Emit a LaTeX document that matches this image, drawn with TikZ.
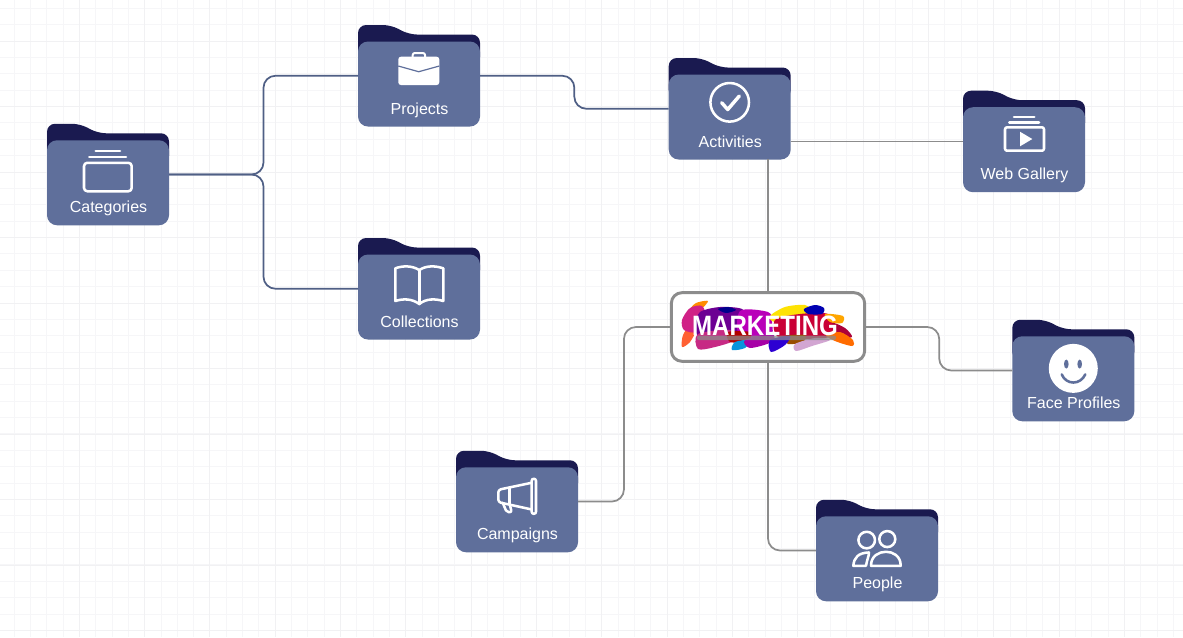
\documentclass[tikz,border=0pt]{standalone}
\usepackage{fontspec}
\usepackage{tikz}
\usetikzlibrary{calc}
\setmainfont{Liberation Sans}
\definecolor{folderblue}{HTML}{5F6F9B}
\definecolor{foldertab}{HTML}{1A1A50}
\definecolor{linkblue}{HTML}{4F5F85}
\definecolor{linkgray}{HTML}{8C8C8C}
\definecolor{gridminor}{HTML}{F6F6F8}
\definecolor{gridmajor}{HTML}{F1F1F3}
\tikzset{
  foldernode/.style={minimum width=91.5pt, minimum height=76.1pt, inner sep=0, outer sep=0},
  folderlabel/.style={anchor=base, text=white, font=\fontsize{12}{14}\selectfont, inner sep=0},
  icon/.style={white, line width=1.9pt, line cap=round, line join=round},
  linkdark/.style={linkblue, line width=1.3pt, rounded corners=9pt},
  linklight/.style={linkgray, line width=1.3pt, rounded corners=9pt}
}
\newcommand{\folder}[3]{
  \node [foldernode] (#1) at (#2) {};
  \begin{scope}[shift={(#1.north west)}]
    \fill [foldertab, rounded corners=6pt] (0, 40) -- (0, 0) -- (33, 0) -- (51, 9.5) -- (122, 9.5) -- (122, 40) -- cycle;
    \fill [folderblue, rounded corners=7.5pt] (0, 16.5) rectangle (122, 101.5);
    \node [folderlabel] (#1-label) at (61.5, 89) {#3};
  \end{scope}
}
\newcommand{\elbow}[3]{
  \coordinate (mid) at ($(#2)!0.5!(#3)$);
  \draw [#1] (#2) -| (mid |- #3) -- (#3);
}
\newcommand{\patch}[2]{
  \fill [#1] plot [smooth cycle] coordinates {#2};
}

\begin{document}
\begin{tikzpicture}[x=0.75pt, y=-0.75pt]
  \useasboundingbox (0, 0) rectangle (1183, 637);
  \fill [white] (0, 0) rectangle (1183, 637);

  % grid
  \foreach \i in {0,...,71} {
    \draw [gridminor, line width=0.7pt] ({14+16.33*\i}, 0) -- ({14+16.33*\i}, 637);
  }
  \foreach \i in {0,...,38} {
    \draw [gridminor, line width=0.7pt] (0, {8.3+16.37*\i}) -- (1183, {8.3+16.37*\i});
  }
  \foreach \i in {0,...,17} {
    \draw [gridmajor, line width=0.7pt] ({79.3+65.33*\i}, 0) -- ({79.3+65.33*\i}, 637);
  }
  \foreach \i in {0,...,9} {
    \draw [gridmajor, line width=0.7pt] (0, {41+65.5*\i}) -- (1183, {41+65.5*\i});
  }

  % folders
  \folder{categories}{108, 174.5}{Categories}
  \folder{projects}{419, 75.75}{Projects}
  \folder{collections}{419, 288.75}{Collections}
  \folder{activities}{729.7, 108.75}{Activities}
  \folder{webgallery}{1024, 141.45}{Web Gallery}
  \folder{campaigns}{517, 501.5}{Campaigns}
  \folder{people}{877, 550.5}{People}
  \folder{faces}{1073.3, 370.5}{Face Profiles}

  \node [draw=linkgray, line width=2.2pt, fill=white, rounded corners=8pt, minimum width=145pt, minimum height=51.5pt, inner sep=0] (marketing) at (768, 327) {};

  % connectors
  \elbow{linkdark}{categories.east}{projects.west}
  \elbow{linkdark}{categories.east}{collections.west}
  \elbow{linkdark}{projects.east}{activities.west}
  \draw [linklight] (activities.east |- webgallery.west) -- (webgallery.west);
  \draw [linklight] (marketing.north) -- (marketing.north |- activities.south);
  \elbow{linklight}{marketing.east}{faces.west}
  \elbow{linklight}{marketing.west}{campaigns.east}
  \draw [linklight] (marketing.south) |- (people.west);

  % icons
  \begin{scope}[shift={(categories.north west)}, icon]
    \draw (48.7, 27.2) -- (73, 27.2);
    \draw (42.3, 33) -- (79, 33);
    \draw [rounded corners=2.5pt] (37, 39) rectangle (84.7, 67.5);
  \end{scope}
  \begin{scope}[shift={(projects.north west)}, icon]
    \draw [line width=1.5pt, rounded corners=1.5pt] (54.7, 32) -- (54.7, 28) -- (67, 28) -- (67, 32);
    \fill [rounded corners=2pt] (40.3, 31.7) rectangle (81.3, 60);
    \draw [folderblue, line width=0.9pt, line cap=butt] (40.3, 41) -- (60.7, 46.7) -- (81.3, 41);
  \end{scope}
  \begin{scope}[shift={(collections.north west)}, icon]
    \draw (61.3, 32) .. controls (54, 27.5) and (45, 27.5) .. (37.3, 30.3) -- (37.3, 63) .. controls (45, 60.5) and (54, 60.5) .. (61.3, 66) .. controls (68, 60.5) and (77, 60.5) .. (85.3, 63) -- (85.3, 30.3) .. controls (77, 27.5) and (68, 27.5) .. (61.3, 32) -- cycle;
    \draw (61.3, 32) -- (61.3, 66);
  \end{scope}
  \begin{scope}[shift={(activities.north west)}, icon]
    \draw (61, 44.3) circle (19.3);
    \draw [line width=2.6pt] (53, 44.7) -- (59, 51.5) -- (70.6, 38);
  \end{scope}
  \begin{scope}[shift={(webgallery.north west)}, icon]
    \draw (51, 26.3) -- (71.3, 26.3);
    \draw (46.3, 31.6) -- (76, 31.6);
    \draw [rounded corners=1.5pt] (42, 36.6) rectangle (81, 60);
    \fill (57, 41) -- (57, 55.6) -- (69.3, 48.3) -- cycle;
  \end{scope}
  \begin{scope}[shift={(campaigns.north west)}, icon]
    \draw [rounded corners=1.5pt] (75.7, 28) rectangle (80, 63);
    \draw [rounded corners=2pt] (75.7, 32) -- (42.3, 39) -- (42.3, 51.4) -- (75.7, 58.7);
    \draw (53.3, 37) -- (53.3, 53.6);
    \draw [rounded corners=1.5pt] (46.7, 52) -- (50.7, 61.4) -- (55.7, 61.4) -- (54, 54.7);
  \end{scope}
  \begin{scope}[shift={(people.north west)}, icon]
    \draw (50.7, 40.3) circle (8.3);
    \draw (71.3, 39.3) circle (8);
    \draw (55, 66) .. controls (55, 56) and (63, 52) .. (70, 52) .. controls (77, 52) and (84.7, 56) .. (84.7, 66) -- cycle;
    \draw (50, 66) -- (37.3, 66) .. controls (38, 58) and (42, 53) .. (53, 52.7) .. controls (53, 56) and (51, 60) .. (50, 66);
  \end{scope}
  \begin{scope}[shift={(faces.north west)}, icon]
    \fill (61, 48.6) circle (24.5);
    \fill [folderblue] (54, 44.3) ellipse (2.3 and 4.5);
    \fill [folderblue] (67.4, 44.3) ellipse (2.3 and 4.5);
    \draw [folderblue] (49.4, 54.6) .. controls (54, 65.5) and (68, 65.5) .. (73, 54.6);
  \end{scope}

  % brush strokes of the logo
  \patch{orange!90!yellow}{(708, 301) (696, 303) (690, 310) (700, 310)}
  \patch{red!55!orange!80!white}{(690, 326) (683, 335) (682, 347) (690, 342) (696, 330)}
  \patch{magenta!85!black}{(702, 306) (690, 308) (682, 320) (684, 330) (697, 332) (706, 318)}
  \patch{violet!85!blue}{(700, 312) (720, 307) (742, 309) (745, 320) (735, 336) (700, 338) (696, 325)}
  \patch{blue!55!black}{(718, 309) (728, 307) (736, 310) (726, 313)}
  \patch{violet!55!magenta}{(740, 311) (768, 312) (772, 322) (770, 338) (740, 338)}
  \patch{magenta!80!black}{(698, 334) (730, 330) (735, 340) (715, 347) (698, 349)}
  \patch{red!70!black}{(728, 332) (750, 332) (748, 341) (730, 342)}
  \patch{cyan!80!blue}{(735, 342) (750, 340) (745, 348) (732, 350)}
  \patch{violet!70!magenta}{(745, 340) (772, 334) (772, 342) (750, 348)}
  \patch{yellow!85!orange}{(770, 316) (785, 307) (805, 305) (812, 312) (800, 318) (775, 322)}
  \patch{purple!85!red}{(775, 320) (800, 314) (828, 314) (835, 330) (825, 338) (780, 338)}
  \patch{blue!70!black}{(804, 309) (815, 305) (824, 308) (822, 314) (808, 314)}
  \patch{orange!70!yellow}{(825, 314) (843, 316) (842, 323) (830, 322)}
  \patch{purple!90!black}{(832, 323) (845, 328) (852, 337) (838, 337)}
  \patch{orange!85!red}{(826, 335) (840, 332) (853, 340) (852, 346) (835, 341)}
  \patch{orange!60!black}{(785, 336) (805, 335) (803, 342) (788, 344)}
  \patch{blue!65!violet}{(770, 340) (790, 336) (785, 345) (771, 352)}
  \patch{violet!35!white}{(795, 344) (815, 338) (830, 340) (812, 346) (796, 351)}
  \fill [black!45, opacity=0.75, rounded corners=1.5pt] (697, 335.5) rectangle (836, 340);
  \node [text=white, font=\fontsize{21}{23}\bfseries, xscale=0.86, transform shape, inner sep=0] (marketing-text) at (765, 326) {MARKETING};
\end{tikzpicture}
\end{document}
